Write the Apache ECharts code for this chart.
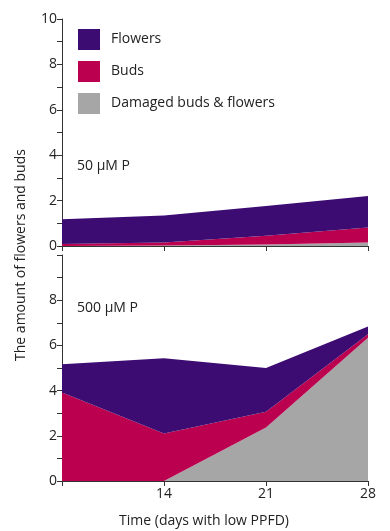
<!DOCTYPE html>
<html>
<head>
<meta charset="utf-8">
<script src="https://cdn.jsdelivr.net/npm/echarts@6/dist/echarts.min.js"></script>
<style>html,body{margin:0;padding:0;background:#fff}#c{width:390px;height:531px}</style>
</head>
<body>
<div id="c"></div>
<script>
// Categories (days with low PPFD)
var days = ['7', '14', '21', '28'];
var xTickLabels = ['', '14', '21', '28'];
// 50 µM P panel (stack components)
var damaged50 = [0, 0.02, 0.07, 0.15];
var buds50 = [0.09, 0.13, 0.38, 0.66];
var flowers50 = [1.09, 1.19, 1.31, 1.39];
// 500 µM P panel (stack components)
var damaged500 = [0, 0, 2.37, 6.34];
var buds500 = [3.92, 2.1, 0.69, 0.15];
var flowers500 = [1.25, 3.33, 1.94, 0.35];
var seriesNames = ['Flowers', 'Buds', 'Damaged buds & flowers'];
var panelLabels = ['50 \u00b5M P', '500 \u00b5M P'];

var colors = {flowers: '#3d0c73', buds: '#bb0050', damaged: '#a6a6a6'};
var FONT = '"Open Sans", "Noto Sans", sans-serif';
var axisCol = '#333';
var txtCol = '#222';

function xAx(idx, showLabels) {
  return {
    type: 'category', gridIndex: idx, data: days, boundaryGap: false,
    axisLine: {lineStyle: {color: axisCol, width: 1}},
    axisTick: {show: true, length: 5, lineStyle: {color: axisCol}, interval: 0},
    axisLabel: {show: showLabels, color: txtCol, fontFamily: FONT, fontSize: 14, margin: 6,
      formatter: function (v, i) { return xTickLabels[i]; }},
    splitLine: {show: false}
  };
}
function yAx(idx, hideTop) {
  return {
    type: 'value', gridIndex: idx, min: 0, max: 10, interval: 1,
    axisLine: {show: true, lineStyle: {color: axisCol, width: 1}},
    axisTick: {show: true, length: 5, lineStyle: {color: axisCol}},
    axisLabel: {color: txtCol, fontFamily: FONT, fontSize: 14, margin: 5,
      formatter: function (v) { if (v % 2 !== 0) return ''; if (hideTop && v === 10) return ''; return String(v); }},
    splitLine: {show: false}
  };
}
function areaSeries(name, data, color, idx, stack) {
  return {
    name: name, type: 'line', xAxisIndex: idx, yAxisIndex: idx, stack: stack,
    data: data, symbol: 'none', showSymbol: false, smooth: false,
    lineStyle: {width: 0}, areaStyle: {color: color, opacity: 1},
    itemStyle: {color: color}, emphasis: {disabled: true}
  };
}

var chart = echarts.init(document.getElementById('c'), null, {renderer: 'canvas'});
chart.setOption({
  animation: false,
  backgroundColor: '#fff',
  grid: [
    {left: 62, top: 19, width: 306, height: 227},
    {left: 62, top: 255, width: 306, height: 226}
  ],
  xAxis: [xAx(0, false), xAx(1, true)],
  yAxis: [yAx(0, false), yAx(1, true)],
  legend: {
    data: seriesNames, orient: 'vertical', left: 78, top: 29, padding: 0,
    icon: 'rect', itemWidth: 22, itemHeight: 21, itemGap: 11,
    textStyle: {color: txtCol, fontFamily: FONT, fontSize: 14, padding: [0, 0, 0, 6]},
    selectedMode: false
  },
  series: [
    areaSeries(seriesNames[2], damaged50, colors.damaged, 0, 'a'),
    areaSeries(seriesNames[1], buds50, colors.buds, 0, 'a'),
    areaSeries(seriesNames[0], flowers50, colors.flowers, 0, 'a'),
    areaSeries(seriesNames[2], damaged500, colors.damaged, 1, 'b'),
    areaSeries(seriesNames[1], buds500, colors.buds, 1, 'b'),
    areaSeries(seriesNames[0], flowers500, colors.flowers, 1, 'b')
  ],
  graphic: [
    {type: 'text', left: 77, top: 159, style: {text: panelLabels[0], fill: txtCol, font: '14px ' + FONT}},
    {type: 'text', left: 77, top: 301, style: {text: panelLabels[1], fill: txtCol, font: '14px ' + FONT}},
    {type: 'text', x: 21, y: 255, rotation: Math.PI / 2,
      style: {text: 'The amount of flowers and buds', fill: txtCol, font: '14px ' + FONT, align: 'center', verticalAlign: 'middle'}},
    {type: 'text', x: 204, y: 521,
      style: {text: 'Time (days with low PPFD)', fill: txtCol, font: '14px ' + FONT, align: 'center', verticalAlign: 'middle'}}
  ]
});
</script>
</body>
</html>
